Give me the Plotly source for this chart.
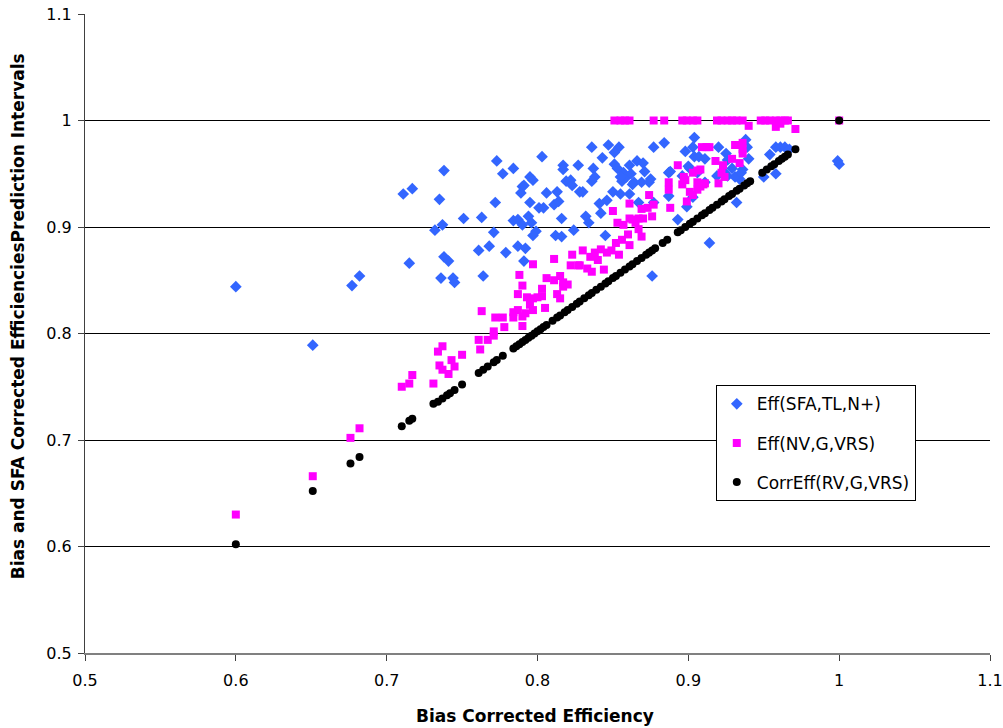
import plotly.graph_objects as go

# Eff(SFA,TL,N+)
sfa_x = [0.600, 0.651, 0.677, 0.682, 0.711, 0.717, 0.715, 0.738, 0.735, 0.737, 0.732, 0.738, 0.741,
         0.736, 0.744, 0.745, 0.751, 0.763, 0.773, 0.777, 0.784, 0.772, 0.771, 0.761, 0.768, 0.764,
         0.779, 0.787, 0.792, 0.791, 0.784, 0.787, 0.790, 0.794, 0.796, 0.799, 0.797, 0.789, 0.790,
         0.791, 0.795, 0.797, 0.795, 0.803, 0.801, 0.817, 0.817, 0.827, 0.819, 0.822, 0.823, 0.806,
         0.813, 0.811, 0.814, 0.804, 0.816, 0.812, 0.816, 0.824, 0.828, 0.836, 0.847, 0.854, 0.851,
         0.843, 0.837, 0.838, 0.836, 0.830, 0.832, 0.834, 0.841, 0.842, 0.846, 0.845, 0.850, 0.855,
         0.861, 0.867, 0.877, 0.851, 0.853, 0.857, 0.861, 0.856, 0.859, 0.862, 0.864, 0.866, 0.870,
         0.871, 0.869, 0.874, 0.877, 0.884, 0.887, 0.898, 0.904, 0.903, 0.904, 0.900, 0.896, 0.899,
         0.893, 0.903, 0.920, 0.925, 0.938, 0.939, 0.940, 0.936, 0.934, 0.932, 0.929, 0.919, 0.926,
         0.931, 0.958, 0.961, 0.964, 0.967, 0.954, 0.950, 0.958, 0.999, 1.000, 0.914, 0.876, 0.888,
         0.901, 0.907, 0.911, 0.906, 0.911, 0.924, 0.935, 0.926, 0.855, 0.863, 0.875, 0.887]
sfa_y = [0.844, 0.789, 0.845, 0.854, 0.931, 0.936, 0.866, 0.953, 0.926, 0.902, 0.897, 0.872, 0.868,
         0.852, 0.852, 0.848, 0.908, 0.909, 0.962, 0.950, 0.955, 0.923, 0.895, 0.878, 0.882, 0.854,
         0.876, 0.882, 0.880, 0.868, 0.906, 0.907, 0.902, 0.910, 0.904, 0.896, 0.892, 0.932, 0.938,
         0.939, 0.947, 0.944, 0.923, 0.966, 0.918, 0.958, 0.954, 0.958, 0.943, 0.944, 0.939, 0.932,
         0.933, 0.921, 0.924, 0.918, 0.908, 0.892, 0.891, 0.897, 0.933, 0.975, 0.977, 0.975, 0.970,
         0.965, 0.955, 0.947, 0.943, 0.933, 0.910, 0.904, 0.922, 0.913, 0.925, 0.892, 0.933, 0.931,
         0.931, 0.923, 0.923, 0.959, 0.955, 0.951, 0.958, 0.943, 0.947, 0.950, 0.942, 0.962, 0.960,
         0.952, 0.942, 0.942, 0.975, 0.979, 0.951, 0.971, 0.984, 0.975, 0.966, 0.957, 0.948, 0.919,
         0.907, 0.928, 0.975, 0.969, 0.982, 0.975, 0.964, 0.954, 0.945, 0.923, 0.955, 0.948, 0.948,
         0.947, 0.975, 0.975, 0.975, 0.973, 0.968, 0.947, 0.950, 0.962, 0.959, 0.885, 0.854, 0.952,
         0.955, 0.966, 0.964, 0.951, 0.942, 0.951, 0.951, 0.963, 0.947, 0.940, 0.945, 0.929]

# Eff(NV,G,VRS)
nv_x = [0.851, 0.855, 0.858, 0.861, 0.877, 0.884, 0.896, 0.899, 0.903, 0.906, 0.919, 0.922, 0.926,
        0.929, 0.932, 0.936, 0.948, 0.951, 0.954, 0.958, 0.961, 0.964, 0.966, 1.000, 0.940, 0.958,
        0.961, 0.971, 0.909, 0.912, 0.914, 0.931, 0.936, 0.936, 0.936, 0.918, 0.929, 0.934, 0.923,
        0.922, 0.924, 0.920, 0.911, 0.908, 0.908, 0.906, 0.903, 0.893, 0.887, 0.887, 0.897, 0.898,
        0.896, 0.906, 0.910, 0.901, 0.906, 0.903, 0.899, 0.888, 0.874, 0.877, 0.873, 0.876, 0.869,
        0.867, 0.861, 0.861, 0.863, 0.870, 0.865, 0.867, 0.869, 0.850, 0.853, 0.857, 0.860, 0.856,
        0.852, 0.861, 0.854, 0.849, 0.846, 0.842, 0.838, 0.835, 0.840, 0.833, 0.836, 0.844, 0.830,
        0.828, 0.823, 0.811, 0.822, 0.827, 0.797, 0.788, 0.790, 0.806, 0.811, 0.815, 0.817, 0.820,
        0.817, 0.787, 0.793, 0.797, 0.800, 0.803, 0.803, 0.813, 0.815, 0.795, 0.797, 0.805, 0.763,
        0.772, 0.777, 0.784, 0.787, 0.784, 0.790, 0.792, 0.790, 0.778, 0.771, 0.771, 0.767, 0.761,
        0.762, 0.750, 0.743, 0.745, 0.735, 0.737, 0.741, 0.734, 0.737, 0.731, 0.710, 0.715, 0.717,
        0.676, 0.682, 0.651, 0.600]
nv_y = [1.000, 1.000, 1.000, 1.000, 1.000, 1.000, 1.000, 1.000, 1.000, 1.000, 1.000, 1.000, 1.000,
        1.000, 1.000, 1.000, 1.000, 1.000, 1.000, 1.000, 1.000, 1.000, 1.000, 1.000, 0.995, 0.994,
        0.997, 0.992, 0.975, 0.975, 0.975, 0.977, 0.979, 0.973, 0.969, 0.962, 0.964, 0.960, 0.958,
        0.951, 0.947, 0.941, 0.941, 0.938, 0.954, 0.953, 0.951, 0.958, 0.942, 0.935, 0.947, 0.944,
        0.940, 0.942, 0.940, 0.933, 0.935, 0.930, 0.924, 0.918, 0.930, 0.921, 0.918, 0.910, 0.917,
        0.908, 0.922, 0.908, 0.907, 0.908, 0.904, 0.898, 0.891, 0.915, 0.904, 0.902, 0.893, 0.888,
        0.885, 0.883, 0.874, 0.878, 0.876, 0.879, 0.876, 0.872, 0.869, 0.861, 0.858, 0.860, 0.878,
        0.864, 0.874, 0.870, 0.864, 0.864, 0.865, 0.855, 0.845, 0.852, 0.850, 0.854, 0.848, 0.846,
        0.844, 0.837, 0.834, 0.833, 0.834, 0.842, 0.835, 0.837, 0.833, 0.827, 0.822, 0.824, 0.821,
        0.815, 0.815, 0.820, 0.822, 0.815, 0.816, 0.819, 0.807, 0.806, 0.802, 0.798, 0.794, 0.794,
        0.785, 0.780, 0.775, 0.769, 0.770, 0.766, 0.762, 0.783, 0.788, 0.753, 0.750, 0.753, 0.761,
        0.702, 0.711, 0.666, 0.630]

# CorrEff(RV,G,VRS)
rv_x = [0.600, 0.651, 0.676, 0.682, 0.710, 0.715, 0.717, 0.731, 0.734, 0.737, 0.740, 0.742, 0.745,
        0.750, 0.761, 0.764, 0.767, 0.771, 0.773, 0.777, 0.784, 0.786, 0.788, 0.790, 0.792, 0.794,
        0.796, 0.798, 0.800, 0.802, 0.804, 0.806, 0.810, 0.813, 0.815, 0.818, 0.820, 0.823, 0.826,
        0.828, 0.831, 0.834, 0.836, 0.839, 0.842, 0.845, 0.847, 0.850, 0.852, 0.855, 0.858, 0.861,
        0.863, 0.866, 0.869, 0.872, 0.874, 0.876, 0.878, 0.883, 0.886, 0.893, 0.895, 0.898, 0.901,
        0.903, 0.906, 0.909, 0.911, 0.914, 0.916, 0.919, 0.922, 0.924, 0.927, 0.929, 0.932, 0.934,
        0.937, 0.939, 0.941, 0.949, 0.952, 0.955, 0.957, 0.960, 0.962, 0.964, 0.966, 0.971, 1.000]
rv_y = [0.602, 0.652, 0.678, 0.684, 0.713, 0.718, 0.720, 0.734, 0.736, 0.739, 0.742, 0.744, 0.747,
        0.752, 0.763, 0.766, 0.769, 0.773, 0.775, 0.779, 0.786, 0.788, 0.790, 0.792, 0.794, 0.796,
        0.798, 0.800, 0.802, 0.804, 0.806, 0.808, 0.812, 0.815, 0.817, 0.820, 0.822, 0.825, 0.828,
        0.830, 0.833, 0.836, 0.838, 0.841, 0.844, 0.847, 0.849, 0.852, 0.854, 0.857, 0.860, 0.863,
        0.865, 0.868, 0.871, 0.874, 0.876, 0.878, 0.880, 0.885, 0.888, 0.895, 0.897, 0.900, 0.903,
        0.905, 0.908, 0.911, 0.913, 0.916, 0.918, 0.921, 0.924, 0.926, 0.929, 0.931, 0.934, 0.936,
        0.939, 0.941, 0.943, 0.951, 0.954, 0.957, 0.959, 0.962, 0.964, 0.966, 0.968, 0.973, 1.000]

tick_vals = [0.5, 0.6, 0.7, 0.8, 0.9, 1.0, 1.1]
tick_text = ["0.5", "0.6", "0.7", "0.8", "0.9", "1", "1.1"]

x_title = "Bias Corrected Efficiency"
y_title = "Bias and SFA Corrected EfficienciesPrediction Intervals"

FONT = "'DejaVu Sans', sans-serif"

fig = go.Figure()
fig.add_trace(go.Scatter(x=sfa_x, y=sfa_y, mode="markers", name="Eff(SFA,TL,N+)", legendgroup="a",
                         marker=dict(symbol="diamond", size=9, color="#3366FF", line=dict(width=0))))
fig.add_trace(go.Scatter(x=nv_x, y=nv_y, mode="markers", name="Eff(NV,G,VRS)", legendgroup="b",
                         marker=dict(symbol="square", size=8, color="#FF00FF", line=dict(width=0))))
fig.add_trace(go.Scatter(x=rv_x, y=rv_y, mode="markers", name="CorrEff(RV,G,VRS)", legendgroup="c",
                         marker=dict(symbol="circle", size=8, color="#000000", line=dict(width=0))))

fig.update_layout(
    width=1003, height=728,
    margin=dict(l=85, r=13, t=14, b=75),
    paper_bgcolor="white", plot_bgcolor="white",
    font=dict(family=FONT, size=16, color="black"),
    showlegend=True,
    legend=dict(x=0.697, y=0.419, xanchor="left", yanchor="top",
                bgcolor="white", bordercolor="black", borderwidth=1,
                font=dict(family=FONT, size=17, color="black"),
                tracegroupgap=14, itemsizing="trace", traceorder="grouped"),
    xaxis=dict(range=[0.5, 1.1], tickvals=tick_vals, ticktext=tick_text, automargin=False,
               showgrid=False, zeroline=False, showline=True, linecolor="#808080", linewidth=2,
               ticks="outside", ticklen=6, tickcolor="#404040", ticklabelstandoff=6,
               tickfont=dict(size=16)),
    yaxis=dict(range=[0.5, 1.1], tickvals=tick_vals, ticktext=tick_text, automargin=False,
               showgrid=True, gridcolor="#000000", gridwidth=1, zeroline=False,
               showline=True, linecolor="#404040", linewidth=1,
               ticks="outside", ticklen=6, tickcolor="#404040", ticklabelstandoff=3,
               tickfont=dict(size=16)),
    annotations=[
        dict(text="<b>" + x_title + "</b>", xref="paper", yref="paper", x=0.497, y=-0.099,
             xanchor="center", yanchor="middle", showarrow=False, font=dict(size=17)),
        dict(text="<b>" + y_title + "</b>", xref="paper", yref="paper", x=-0.074, y=0.527,
             xanchor="center", yanchor="middle", textangle=-90, showarrow=False, font=dict(size=17)),
    ],
)

fig.write_html("out.html")
